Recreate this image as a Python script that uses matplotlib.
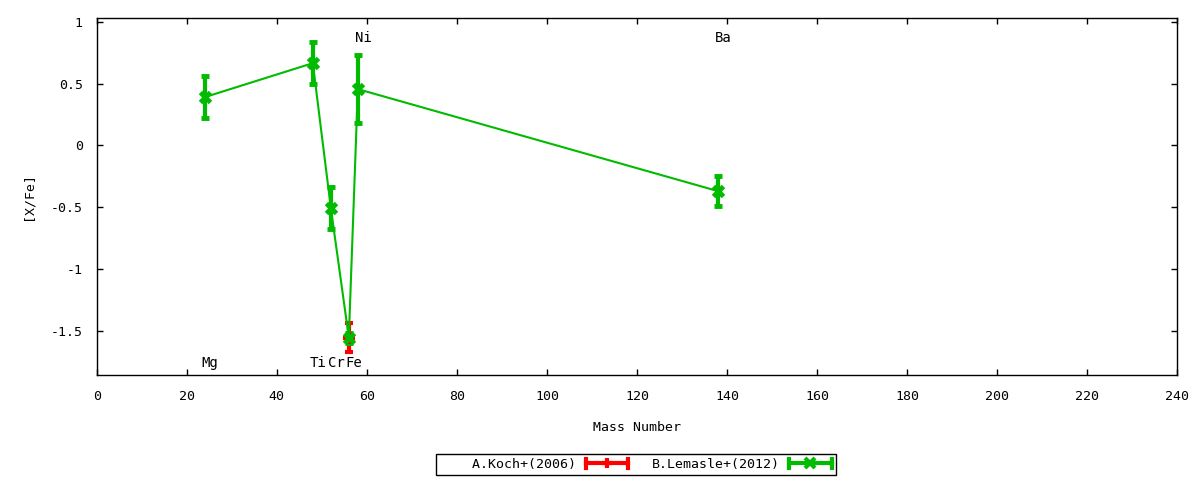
import matplotlib
matplotlib.use("Agg")
import matplotlib.pyplot as plt
from matplotlib.lines import Line2D
from matplotlib.legend_handler import HandlerBase
from matplotlib.ticker import FuncFormatter

plt.rcParams["font.family"] = ["DejaVu Sans Mono"]

# A.Koch+(2006)
koch_mass = [56]
koch_xfe = [-1.555]
koch_err = [0.115]

# B.Lemasle+(2012)
lem_mass = [24, 48, 52, 56, 58, 138]
lem_xfe = [0.39, 0.665, -0.505, -1.555, 0.455, -0.37]
lem_err = [0.17, 0.17, 0.17, 0.04, 0.275, 0.12]

# element labels
elements = ["Mg", "Ti", "Cr", "Fe", "Ni", "Ba"]
label_mass = [24, 48, 52, 56, 58, 138]
label_y = [-1.762, -1.762, -1.762, -1.762, 0.865, 0.865]

FS = 9.5


class GnuErrHandler(HandlerBase):
    # gnuplot-like key sample: thick bar with end caps and the point in the middle
    def __init__(self, color, marker):
        super().__init__()
        self.color = color
        self.marker = marker

    def create_artists(self, legend, orig_handle, xd, yd, w, h, fs, trans):
        y = h / 2 - yd
        x0, x1 = -xd, -xd + w
        arts = [Line2D([x0, x1], [y, y], color=self.color, lw=3)]
        for xx in (x0, x1):
            arts.append(Line2D([xx, xx], [y - 3.5, y + 3.5], color=self.color, lw=3))
        arts.append(Line2D([(x0 + x1) / 2], [y], color=self.color,
                           marker=self.marker, ms=7, mew=3))
        for a in arts:
            a.set_transform(trans)
        return arts


fig = plt.figure(figsize=(12, 4.8), dpi=100)
ax = fig.add_axes([0.0806, 0.219, 0.9004, 0.744])

h1 = ax.errorbar(koch_mass, koch_xfe, yerr=koch_err, color="#ff0000", lw=1.5,
                 elinewidth=3, capsize=3, capthick=3, marker="+", ms=8, mew=3)
h2 = ax.errorbar(lem_mass, lem_xfe, yerr=lem_err, color="#00bb00", lw=1.5,
                 elinewidth=3, capsize=3, capthick=3, marker="x", ms=7.5, mew=3.5)

for name, m, y in zip(elements, label_mass, label_y):
    ax.text(m - 0.7, y, name, ha="left", va="center", fontsize=FS + 0.5)

ax.set_xlim(0, 240)
ax.set_ylim(-1.856, 1.032)
ax.set_xticks(range(0, 241, 20))
ax.set_yticks([-1.5, -1, -0.5, 0, 0.5, 1])
ax.yaxis.set_major_formatter(FuncFormatter(lambda v, p: "%g" % v))
ax.tick_params(direction="in", top=True, right=True, length=4, width=1,
               labelsize=FS)
ax.tick_params(axis="x", pad=11)
ax.tick_params(axis="y", pad=10)
for s in ax.spines.values():
    s.set_linewidth(1)

ax.set_xlabel("Mass Number", fontsize=FS, labelpad=13)
ax.set_ylabel("[X/Fe]", fontsize=FS, labelpad=12)

leg = fig.legend([h1, h2], ["    A.Koch+(2006)", "B.Lemasle+(2012)"],
                 loc="center", bbox_to_anchor=(0.53, 0.0323), ncol=2,
                 markerfirst=False, fancybox=False, edgecolor="black",
                 framealpha=1, fontsize=FS, handlelength=3.25, handletextpad=0.7,
                 borderpad=0.3, borderaxespad=0, columnspacing=1.75,
                 handler_map={h1: GnuErrHandler("#ff0000", "+"),
                              h2: GnuErrHandler("#00bb00", "x")})
leg.get_frame().set_linewidth(1)

fig.savefig("out.png", dpi=100)
